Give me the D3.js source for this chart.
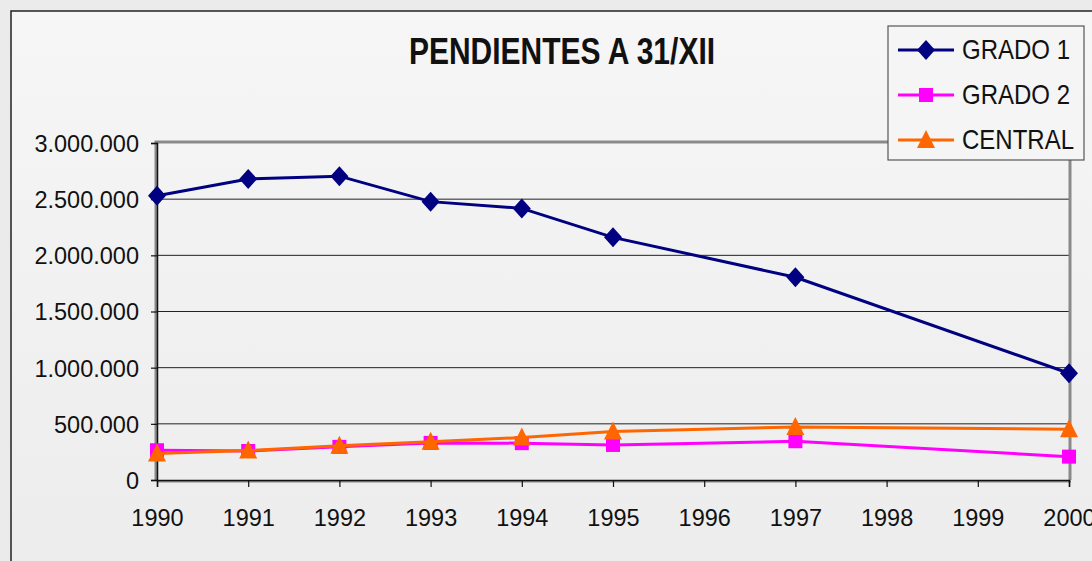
<!DOCTYPE html>
<html>
<head>
<meta charset="utf-8">
<script src="https://cdn.jsdelivr.net/npm/d3@7"></script>
<style>
  html, body { margin: 0; padding: 0; background: #ebebeb; }
  svg { display: block; font-family: "Liberation Sans", Arial, sans-serif; }
</style>
</head>
<body>
<div id="chart"></div>
<script>
// data
var years = ["1990","1991","1992","1993","1994","1995","1996","1997","1998","1999","2000"];
var dataYears = ["1990","1991","1992","1993","1994","1995","1997","2000"];
var grado1 = [2530000, 2680000, 2705000, 2478000, 2418000, 2160000, 1805000, 950000];
var grado2 = [265000, 258000, 295000, 330000, 328000, 312000, 345000, 208000];
var central = [235000, 262000, 305000, 340000, 378000, 432000, 472000, 452000];
var yTicks = [0, 500000, 1000000, 1500000, 2000000, 2500000, 3000000];
var seriesNames = ["GRADO 1", "GRADO 2", "CENTRAL"];
var seriesColors = ["#000080", "#ff00ff", "#ff6600"];
var seriesShapes = ["diamond", "square", "triangle"];

var W = 1092, H = 561;
var plot = {left: 157, top: 143, right: 1069, bottom: 480};

// marker shapes
function marker(shape){
  if (shape == "diamond") return "M0,-10L9,0L0,10L-9,0Z";
  if (shape == "square") return "M-7,-7H7V7H-7Z";
  return "M0,-10L9,8H-9Z";
}

var svg = d3.select("#chart").append("svg")
  .attr("width", W).attr("height", H);

var defs = svg.append("defs");
var grad = defs.append("linearGradient").attr("id", "bg")
  .attr("x1", 0).attr("y1", 0).attr("x2", 0).attr("y2", 1);
grad.append("stop").attr("offset", "0%").attr("stop-color", "#f6f6f6");
grad.append("stop").attr("offset", "100%").attr("stop-color", "#ececec");

// outer chart frame
svg.append("rect").attr("x", 11).attr("y", 11)
  .attr("width", W + 20).attr("height", H + 20)
  .attr("fill", "url(#bg)").attr("stroke", "#222").attr("stroke-width", 1.5);

var x = d3.scalePoint().domain(years).range([plot.left, plot.right]);
var y = d3.scaleLinear().domain([0, 3000000]).range([plot.bottom, plot.top]);

// gridlines
svg.append("g").selectAll("line").data(yTicks.filter(function(d){ return d > 0 && d < 3000000; }))
  .enter().append("line")
  .attr("x1", plot.left).attr("x2", plot.right)
  .attr("y1", function(d){ return y(d); }).attr("y2", function(d){ return y(d); })
  .attr("stroke", "#222").attr("stroke-width", 1);

// plot area border (gray shadow look)
svg.append("path")
  .attr("d", "M" + (plot.left - 1) + "," + plot.bottom + "V" + (plot.top - 1) + "H" + (plot.right + 1) + "V" + plot.bottom)
  .attr("fill", "none").attr("stroke", "#8a8a8a").attr("stroke-width", 3);
svg.append("line").attr("x1", plot.left).attr("x2", plot.right + 2)
  .attr("y1", plot.bottom + 1.5).attr("y2", plot.bottom + 1.5)
  .attr("stroke", "#8a8a8a").attr("stroke-width", 2);

// axes
var fmt = function(d){ return d3.format(",")(d).replace(/,/g, "."); };
var yAxis = svg.append("g").attr("transform", "translate(" + plot.left + ",0)")
  .call(d3.axisLeft(y).tickValues(yTicks).tickFormat(fmt).tickSize(6).tickPadding(12));
var xAxis = svg.append("g").attr("transform", "translate(0," + plot.bottom + ")")
  .call(d3.axisBottom(x).tickSize(7).tickPadding(22));
[yAxis, xAxis].forEach(function(a){
  a.select(".domain").attr("stroke", "#111").attr("stroke-width", 1.5);
  a.selectAll(".tick line").attr("stroke", "#111").attr("stroke-width", 1.2);
  a.selectAll(".tick text").attr("fill", "#111").style("font-size", "23.5px")
    .style("font-family", "'Liberation Sans', Arial, sans-serif");
});
yAxis.selectAll(".tick text").attr("dy", "0.36em");

// series
var allSeries = [grado1, grado2, central];
var line = d3.line()
  .x(function(d, i){ return x(dataYears[i]); })
  .y(function(d){ return y(d); });

allSeries.forEach(function(vals, s){
  var g = svg.append("g");
  g.append("path").datum(vals).attr("d", line)
    .attr("fill", "none").attr("stroke", seriesColors[s]).attr("stroke-width", 3);
  g.selectAll("path.mk").data(vals).enter().append("path").attr("class", "mk")
    .attr("transform", function(d, i){ return "translate(" + x(dataYears[i]) + "," + y(d) + ")"; })
    .attr("d", marker(seriesShapes[s]))
    .attr("fill", seriesColors[s]);
});

// title (slightly stretched vertically like the original)
svg.append("text").attr("transform", "translate(562,64) scale(1,1.2)")
  .attr("text-anchor", "middle")
  .style("font-size", "30px").style("font-weight", "bold").attr("fill", "#111")
  .text("PENDIENTES A 31/XII");

// legend
var leg = svg.append("g").attr("transform", "translate(888,26)");
leg.append("rect").attr("width", 196).attr("height", 134)
  .attr("fill", "#f5f5f5").attr("stroke", "#555").attr("stroke-width", 1.2);
seriesNames.forEach(function(name, s){
  var cy = 24 + s * 45;
  leg.append("line").attr("x1", 10).attr("x2", 66).attr("y1", cy).attr("y2", cy)
    .attr("stroke", seriesColors[s]).attr("stroke-width", 3);
  leg.append("path").attr("transform", "translate(38," + cy + ")")
    .attr("d", marker(seriesShapes[s]))
    .attr("fill", seriesColors[s]);
  leg.append("text").attr("transform", "translate(74," + (cy + 8.5) + ") scale(1,1.15)")
    .style("font-size", "24px").attr("fill", "#111").text(name);
});
</script>
</body>
</html>
